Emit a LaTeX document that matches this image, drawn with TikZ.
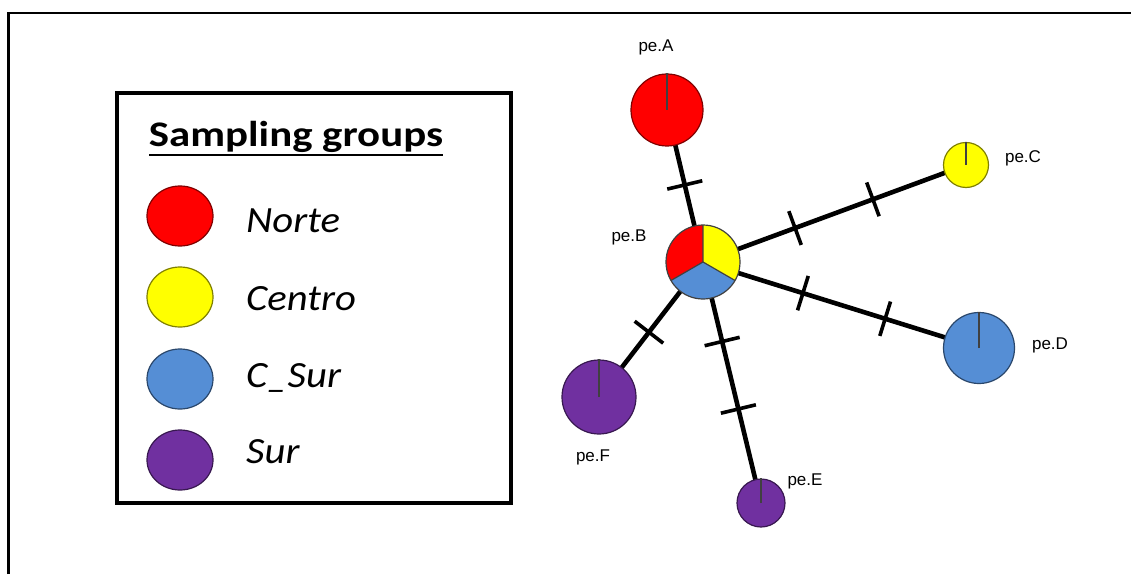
\documentclass[tikz,border=0pt]{standalone}
\usepackage{fontspec}
\usepackage{graphicx}
\setmainfont{Liberation Sans}
\newfontfamily\calib{Carlito}
\usetikzlibrary{backgrounds,decorations.markings}
\definecolor{cnorte}{HTML}{FF0000}
\definecolor{ccentro}{HTML}{FFFF00}
\definecolor{ccsur}{HTML}{558ED5}
\definecolor{csur}{HTML}{7030A0}
\tikzset{
  hap/.style={circle, draw=#1!50!black, fill=#1, line width=1.2pt, inner sep=0pt},
  legel/.style={ellipse, draw=#1!50!black, fill=#1, line width=1.2pt, minimum width=66pt, minimum height=60pt, inner sep=0pt},
  legtxt/.style={anchor=base west, inner sep=0pt, font=\calib\fontsize{37}{40}\selectfont\itshape},
  hlab/.style={inner sep=0pt, font=\fontsize{17}{20}\selectfont},
  edge/.style={line width=4.6pt, black},
  mut/.style={postaction={decorate, decoration={markings, mark=at position #1 with {\draw[line width=3.6pt, black] (0pt,-18pt)--(0pt,18pt);}}}},
  radial/.style={line width=1.2pt, black!75},
}
\usetikzlibrary{shapes.geometric}
\begin{document}
\begin{tikzpicture}[x=1pt,y=1pt]
\useasboundingbox (0,0) rectangle (1131,574);
% outer frame
\draw[line width=2.5pt] (8.5,0) -- (8.5,561) -- (1131,561);
% legend
\node[draw, line width=3.5pt, minimum width=394pt, minimum height=410pt, inner sep=0pt] (legend) at (314,276) {};
\node[anchor=base, inner sep=0pt, font=\calib\bfseries\fontsize{36}{40}\selectfont] (title) at (296,427) {\scalebox{1.19}[1]{Sampling groups}};
\draw[line width=2pt] (149,419) -- (443,419);
\node[legel=cnorte] (lnorte) at (180,358) {};
\node[legel=ccentro] (lcentro) at (180,277) {};
\node[legel=ccsur] (lcsur) at (180,195) {};
\node[legel=csur] (lsur) at (180,114) {};
\node[legtxt] (tnorte) at (246,342) {\scalebox{1.1}[1]{Norte}};
\node[legtxt] (tcentro) at (246,264) {\scalebox{1.1}[1]{Centro}};
\node[legtxt] (tcsur) at (246,187) {\scalebox{1.1}[1]{C\_Sur}};
\node[legtxt] (tsur) at (246,111) {\scalebox{1.1}[1]{Sur}};
% haplotypes
\node[hap=cnorte, minimum size=72pt] (A) at (667,464) {};
\node[hap=ccentro, minimum size=45pt] (C) at (966,409) {};
\node[hap=ccsur, minimum size=71pt] (D) at (979,226) {};
\node[hap=csur, minimum size=48pt] (E) at (761,71) {};
\node[hap=csur, minimum size=74pt] (F) at (599,177) {};
\coordinate (Bc) at (703,312);
\fill[cnorte] (Bc) -- ++(90:37) arc[start angle=90, end angle=210, radius=37] -- cycle;
\fill[ccsur] (Bc) -- ++(210:37) arc[start angle=210, end angle=330, radius=37] -- cycle;
\fill[ccentro] (Bc) -- ++(330:37) arc[start angle=330, end angle=450, radius=37] -- cycle;
\draw[radial] (Bc) -- ++(90:37) (Bc) -- ++(210:37) (Bc) -- ++(330:37);
\node[circle, draw=black!75, line width=1.2pt, minimum size=74pt, inner sep=0pt] (B) at (Bc) {};
\foreach \n in {A,C,D,E,F} {\draw[radial] (\n.center) -- (\n.north);}
% edges
\begin{scope}[on background layer]
\draw[edge, mut=0.507] (B.center) -- (A.center);
\draw[edge, mut=0.35, mut=0.646] (B.center) -- (C.center);
\draw[edge, mut=0.362, mut=0.66] (B.center) -- (D.center);
\draw[edge, mut=0.33, mut=0.61] (B.center) -- (E.center);
\draw[edge, mut=0.52] (B.center) -- (F.center);
\end{scope}
% labels
\node[hlab] (labA) at (656,527) {pe.A};
\node[hlab] (labB) at (629,337) {pe.B};
\node[hlab] (labC) at (1023,416) {pe.C};
\node[hlab] (labD) at (1050,229) {pe.D};
\node[hlab] (labE) at (805,93) {pe.E};
\node[hlab] (labF) at (593,117) {pe.F};
\end{tikzpicture}
\end{document}
